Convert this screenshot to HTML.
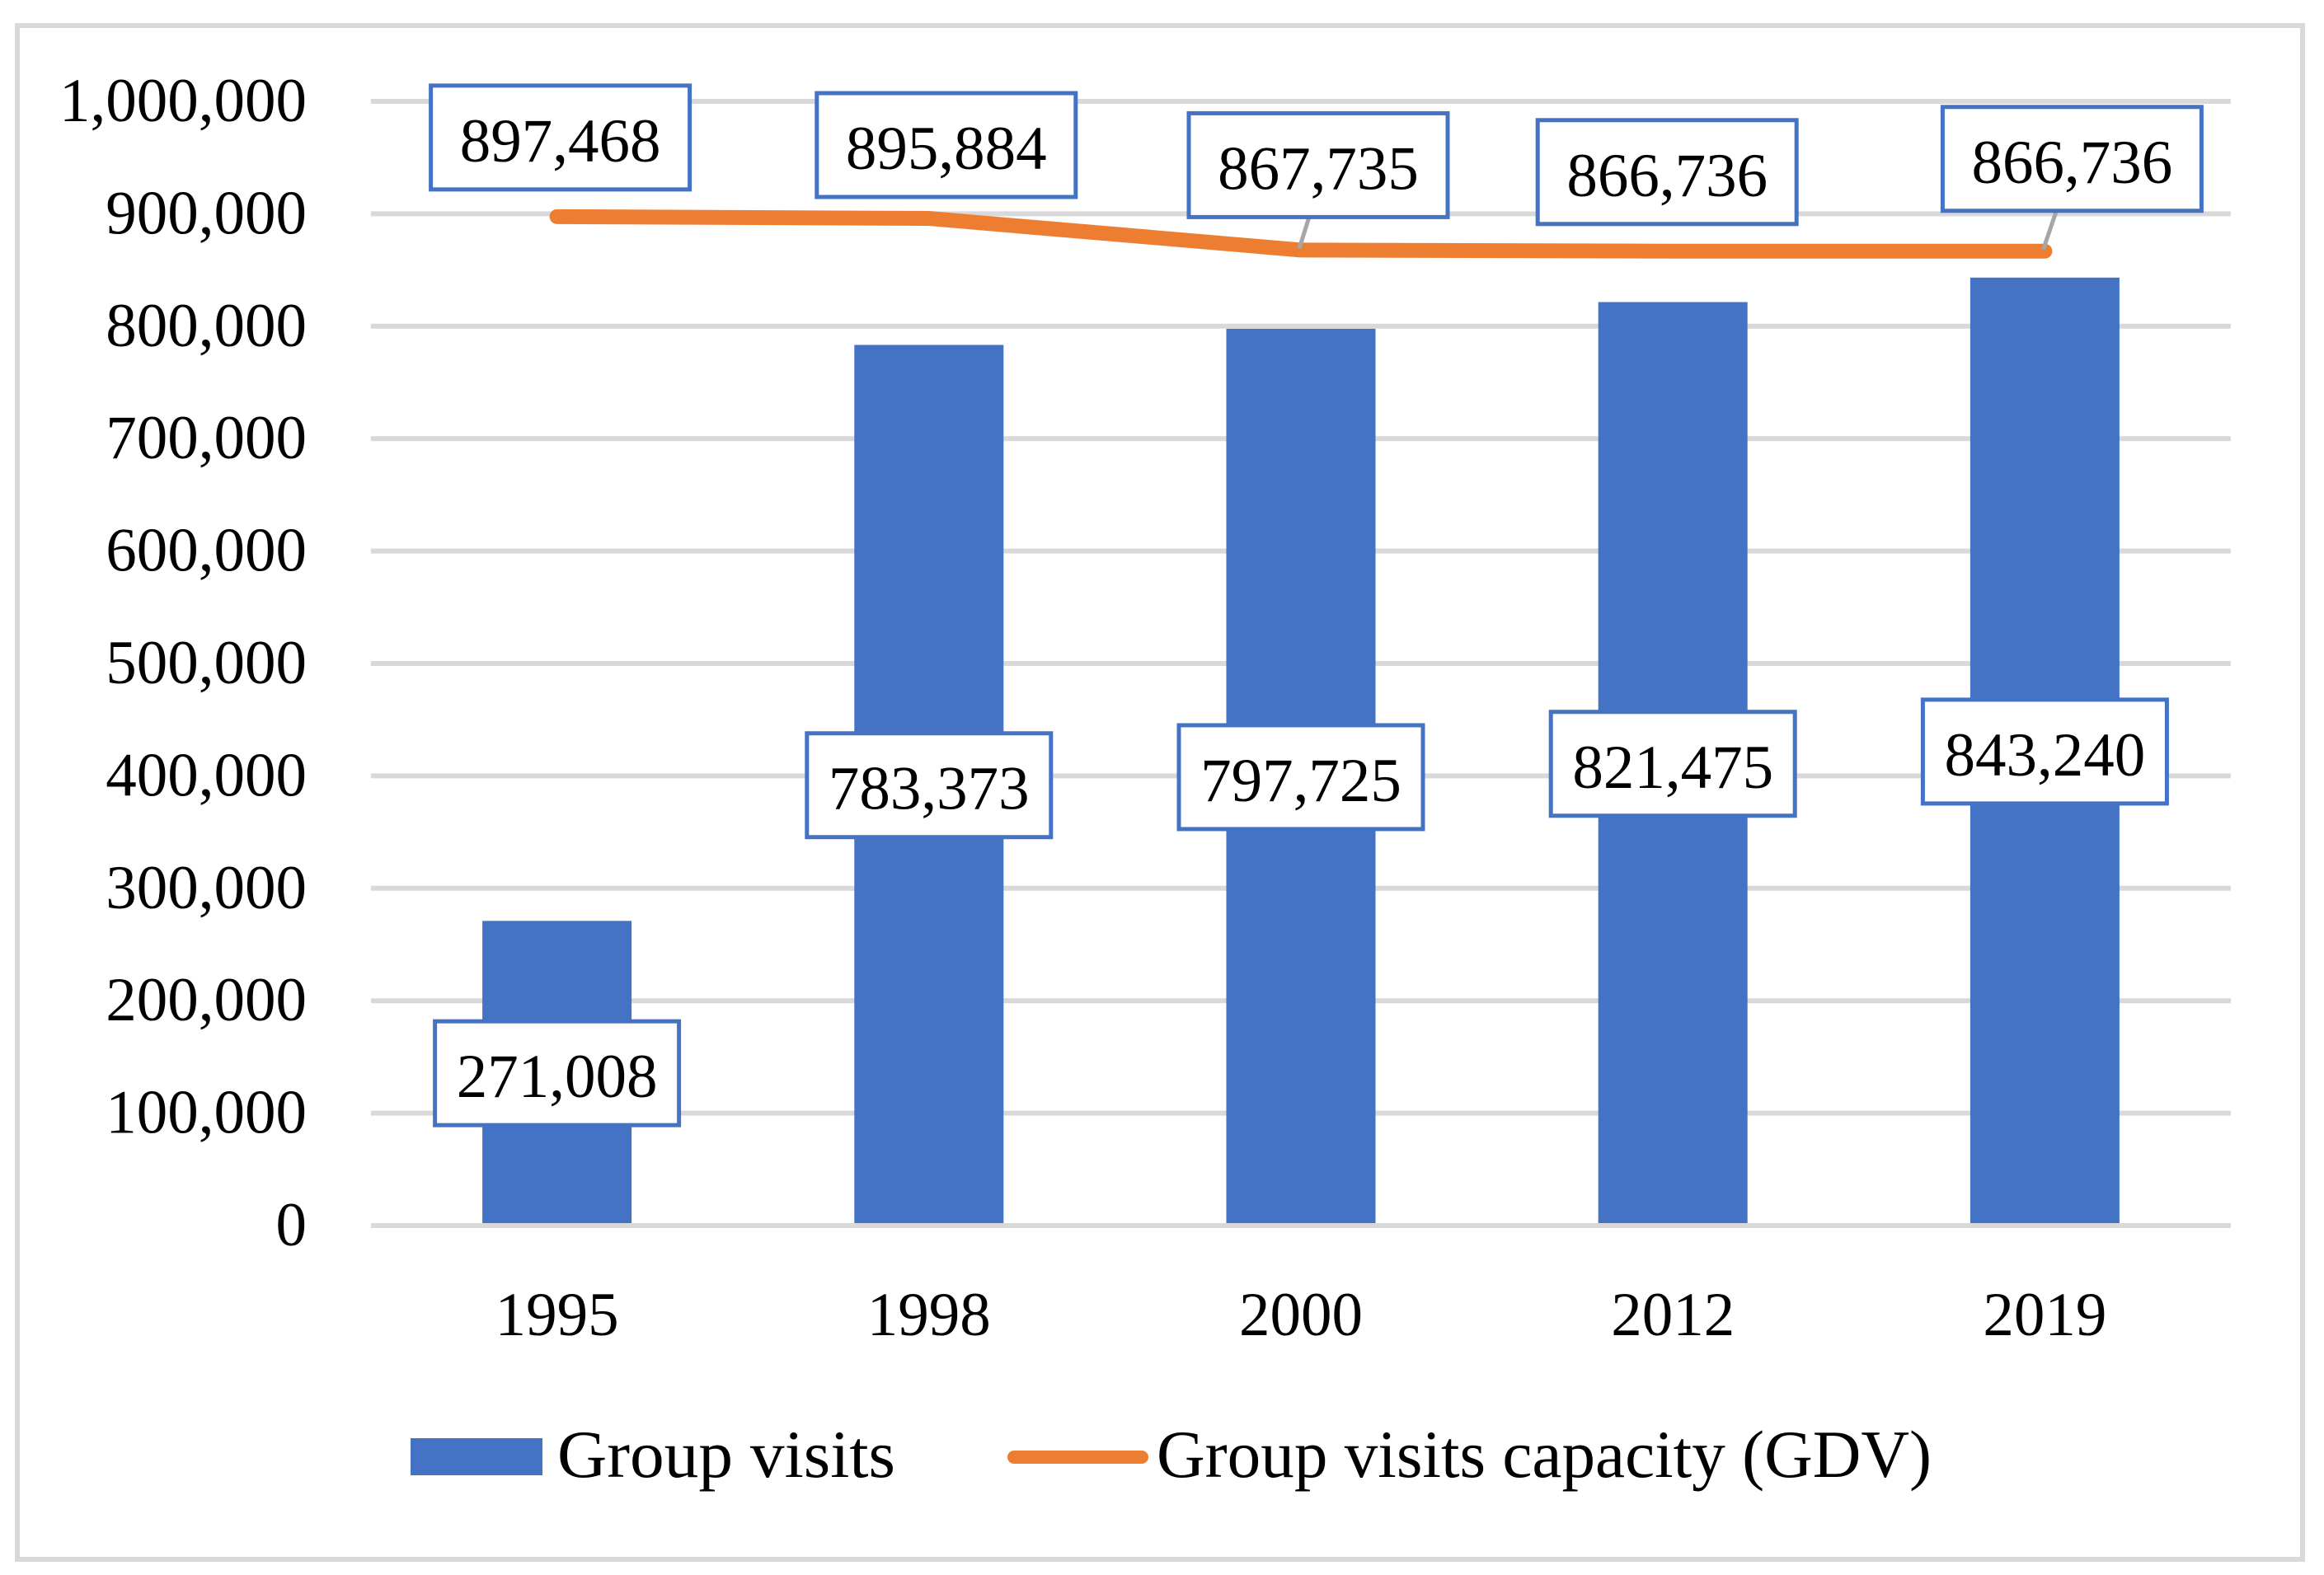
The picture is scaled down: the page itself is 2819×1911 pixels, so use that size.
<!DOCTYPE html>
<html><head><meta charset="utf-8"><style>
html,body{margin:0;padding:0;background:#fff;}
svg{display:block;font-family:"Liberation Serif",serif;}
</style></head><body>
<svg id="chart" width="2819" height="1911" viewBox="0 0 2819 1911" xmlns="http://www.w3.org/2000/svg">
<rect x="21" y="31" width="2772" height="1861" fill="#fff" stroke="#d9d9d9" stroke-width="6"/>
<g id="grid"></g>
<g id="bars"></g>
<g id="line"></g>
<g id="labels"></g>
<g id="legend">
<rect x="498" y="1745" width="160" height="45" fill="#4472C4"/>
<text x="676" y="1792" font-size="82" textLength="410" lengthAdjust="spacingAndGlyphs">Group visits</text>
<line x1="1230" y1="1768" x2="1385" y2="1768" stroke="#ED7D31" stroke-width="16" stroke-linecap="round"/>
<text x="1403" y="1792" font-size="82" textLength="940" lengthAdjust="spacingAndGlyphs">Group visits capacity (GDV)</text>
</g>
</svg>
<script>
const categories = ["1995","1998","2000","2012","2019"];
const groupVisits = [271008, 783373, 797725, 821475, 843240];
const capacity = [897468, 895884, 867735, 866736, 866736];
const yTicks = [0,100000,200000,300000,400000,500000,600000,700000,800000,900000,1000000];
const yTickLabels = ["0","100,000","200,000","300,000","400,000","500,000","600,000","700,000","800,000","900,000","1,000,000"];

const NS = "http://www.w3.org/2000/svg";
const plotL = 450, plotR = 2706, y0 = 1487, yTop = 123, yMax = 1000000;
const band = (plotR - plotL) / categories.length;
const barW = 181;
function xC(i){ return plotL + band * (i + 0.5); }
function yS(v){ return y0 - (v / yMax) * (y0 - yTop); }
function fmt(v){ return v.toLocaleString("en-US"); }
function mk(tag, attrs, parent){
  const e = document.createElementNS(NS, tag);
  for (const k in attrs) e.setAttribute(k, attrs[k]);
  parent.appendChild(e); return e;
}
const grid = document.getElementById("grid");
yTicks.forEach((t, i) => {
  const y = yS(t);
  const l = mk("line", {x1: plotL, x2: plotR, y1: y, y2: y, stroke: "#d9d9d9", "stroke-width": 6}, grid);
  
  
  const tx = mk("text", {x: 372, y: y + 24, "font-size": 75, "text-anchor": "end"}, grid);
  tx.textContent = yTickLabels[i];
  
  
});
categories.forEach((c, i) => {
  const tx = mk("text", {x: xC(i), y: 1620, "font-size": 75, "text-anchor": "middle"}, grid);
  tx.textContent = c;
  
  
});
const bars = document.getElementById("bars");
groupVisits.forEach((v, i) => {
  const r = mk("rect", {x: xC(i) - barW/2, y: yS(v), width: barW, height: y0 - yS(v) - 3, fill: "#4472C4"}, bars);
  
  
});
const lineG = document.getElementById("line");
const pts = capacity.map((v, i) => xC(i) + "," + yS(v)).join(" ");
const pl = mk("polyline", {points: pts, fill: "none", stroke: "#ED7D31", "stroke-width": 18, "stroke-linecap": "round", "stroke-linejoin": "round"}, lineG);



const labels = document.getElementById("labels");
// label box layout offsets relative to the data point (layout only)
const capBoxDy = [-159, -152, -166, -159, -175];
const capBoxDx = [4, 21, 21, -7, 33];
function box(cx, top, w, txt, name, leader){
  const g = mk("g", {}, labels);
  
  
  if (leader){
    const ln = mk("line", {x1: leader[0], y1: leader[1], x2: leader[2], y2: leader[3], stroke: "#a6a6a6", "stroke-width": 5}, g);
    
    
  }
  mk("rect", {x: cx - w/2, y: top, width: w, height: 126, fill: "#fff", stroke: "#4472C4", "stroke-width": 5}, g);
  const t = mk("text", {x: cx, y: top + 92, "font-size": 75, "text-anchor": "middle"}, g);
  t.textContent = txt;
}
capacity.forEach((v, i) => {
  const cx = xC(i) + capBoxDx[i];
  const top = yS(v) + capBoxDy[i];
  let leader = null;
  if (i === 2) leader = [xC(i) - 2, yS(v) - 2, xC(i) + 10, top + 126];
  if (i === 4) leader = [xC(i) - 2, yS(v) - 2, xC(i) + 14, top + 126];
  box(cx, top, 314, fmt(v), 'capacity-label-' + categories[i], leader);
});
groupVisits.forEach((v, i) => {
  const mid = (yS(v) + y0) / 2;
  box(xC(i), mid - 63, 296, fmt(v), 'bar-label-' + categories[i], null);
});
</script>
</body></html>
